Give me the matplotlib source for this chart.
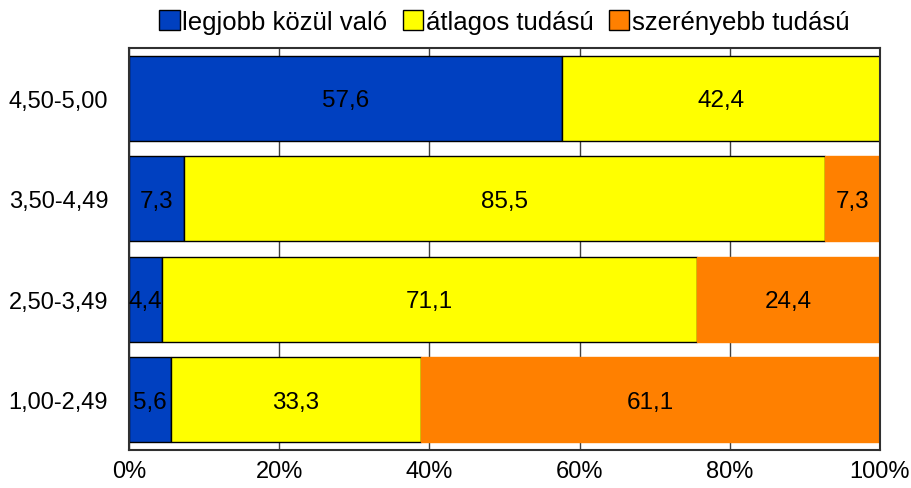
import matplotlib.pyplot as plt
import numpy as np
from matplotlib.patches import Patch

plt.rcParams['font.family'] = ['Liberation Sans', 'DejaVu Sans']

categories = ['1,00-2,49', '2,50-3,49', '3,50-4,49', '4,50-5,00']
series_names = ['legjobb közül való', 'átlagos tudású', 'szerényebb tudású']
legjobb = [5.6, 4.4, 7.3, 57.6]
atlagos = [33.3, 71.1, 85.5, 42.4]
szerenyebb = [61.1, 24.4, 7.3, 0.0]

colors = ['#0040C0', '#FFFF00', '#FF8000']
edges = ['black', 'black', '#FF8000']

data = np.array([legjobb, atlagos, szerenyebb])
totals = data.sum(axis=0)
shares = data / totals * 100

fig = plt.figure(figsize=(9.12, 4.89), dpi=100)
ax = fig.add_axes([129 / 912, 1 - 451 / 489, 751 / 912, 402 / 489])

y = np.arange(len(categories))
left = np.zeros(len(categories))
for i in range(3):
    ax.barh(y, shares[i], left=left, height=0.85, color=colors[i],
            edgecolor=edges[i], linewidth=1, zorder=2)
    for j in range(len(categories)):
        if data[i, j] > 0:
            ax.text(left[j] + shares[i, j] / 2, y[j] - 0.02, f'{data[i, j]:.1f}'.replace('.', ','),
                    ha='center', va='center', fontsize=17.5, zorder=3)
    left += shares[i]

ax.set_xlim(0, 100)
ax.set_ylim(-0.5, len(categories) - 0.5)
ax.set_xticks(np.arange(0, 101, 20))
ax.set_xticklabels([f'{v}%' for v in range(0, 101, 20)], fontsize=17)
ax.set_yticks(y)
ax.set_yticklabels(categories, fontsize=17)
ax.tick_params(axis='x', length=0, pad=7)
ax.tick_params(axis='y', length=0, pad=15)
ax.grid(axis='x', color='#404040', linewidth=1, zorder=0)
ax.set_axisbelow(True)
for s in ax.spines.values():
    s.set_color('#303030')
    s.set_linewidth(1.5)

handles = [Patch(facecolor=c, edgecolor='black', linewidth=1) for c in colors]
fig.legend(handles, series_names, loc='upper center', bbox_to_anchor=(0.553, 1.025),
           ncol=3, frameon=False, fontsize=18.5, handlelength=0.8, handleheight=0.8,
           handletextpad=0.1, columnspacing=0.6)

fig.savefig('out.png', dpi=100)
